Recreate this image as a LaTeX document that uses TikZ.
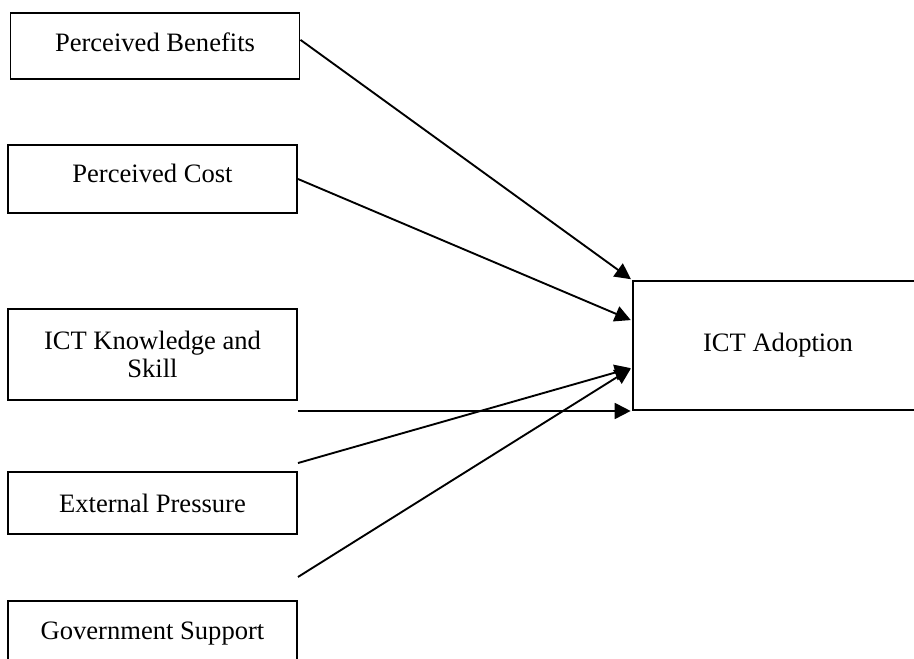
\documentclass[tikz,border=0pt]{standalone}
\usepackage{fontspec}
\setmainfont{Liberation Serif}
\usetikzlibrary{arrows.meta,calc}

\newcommand{\px}{0.4515pt}

\begin{document}
\begin{tikzpicture}[x=\px,y=-\px,
        ->,>={Triangle[length=7.2pt,width=7.2pt]},shorten >=0.6pt,line width=0.85pt,
        factor/.style={draw,line width=0.9pt,rectangle,align=center,
          minimum width=289*\px,font=\fontsize{12}{13}\selectfont}]

  \useasboundingbox (0,0) rectangle (914,659);

  \node[factor,minimum height=66*\px,text depth=3.6pt] (benefits) at (155,46) {Perceived Benefits};
  \node[factor,minimum height=68*\px,text depth=5.4pt] (cost) at (152.5,179) {Perceived Cost};
  \node[factor,minimum height=91*\px] (skill) at (152.5,354.5) {ICT Knowledge and\\Skill};
  \node[factor,minimum height=62*\px] (pressure) at (152.5,503) {External Pressure};
  \node[factor,minimum height=66*\px] (support) at (152.5,634) {Government Support};
  \node[factor,minimum width=290*\px,minimum height=129*\px] (adoption) at (778,345.5) {ICT Adoption};

  \coordinate (p_out) at ([yshift=3.6pt]pressure.north east);
  \coordinate (s_out) at ([yshift=10.4pt]support.north east);
  \coordinate (a_in) at ($(adoption.north west)!0.67!(adoption.south west)$);

  \path ($(benefits.north east)!0.41!(benefits.south east)$) edge (adoption.north west)
        (cost.east) edge ($(adoption.north west)!0.31!(adoption.south west)$)
        (adoption.south west -| skill.east) edge (adoption.south west)
        (p_out) edge (a_in)
        (s_out) edge (a_in);

\end{tikzpicture}
\end{document}
